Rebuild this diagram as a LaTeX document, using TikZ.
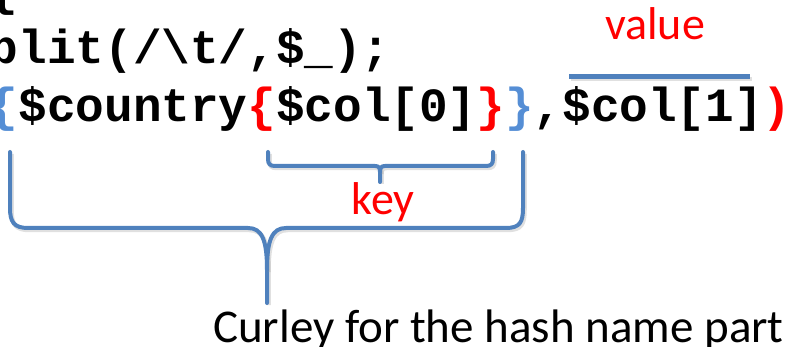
\documentclass[tikz,border=0pt]{standalone}
\usepackage{fontspec}
\newfontfamily\codefont{Liberation Mono}
\newfontfamily\labelfont{Carlito}
\definecolor{braceblue}{RGB}{79,129,189}
\definecolor{codeblue}{RGB}{85,142,213}
\definecolor{labelred}{RGB}{255,0,0}
\tikzset{
  codeline/.style={anchor=base west, inner sep=0pt,
    font=\codefont\bfseries\fontsize{47.7}{58}\selectfont},
  labeltext/.style={inner sep=0pt, text=labelred,
    font=\labelfont\fontsize{46}{55}\selectfont},
  captiontext/.style={anchor=base west, inner sep=0pt, text=black,
    font=\labelfont\fontsize{47}{56}\selectfont},
  braceline/.style={draw=braceblue, line width=4pt, line cap=round, line join=round,
    preaction={draw=black!40, opacity=.3, line width=4.5pt,
      transform canvas={shift={(1.5pt,-2pt)}}}},
}
\begin{document}
\begin{tikzpicture}[x=1pt,y=-1pt]
\useasboundingbox (0,0) rectangle (792,347);

% three lines of Perl code on a monospace grid
\node[codeline] (line1) at (-10.3,6) {\{};
\node[codeline] (line2) at (-10.3,64) {plit(/\textbackslash t/,\$\_);};
\node[codeline] (line3) at (-10.3,122)
  {{\color{codeblue}\{}\$country{\color{labelred}\{}\$col[0]{\color{labelred}\}}{\color{codeblue}\}},\$col[1]{\color{labelred})}};

% brace under the inner key expression
\coordinate (keytip) at (380,182);
\draw[braceline] (268,152) -- (268,159)
  .. controls (268,164) and (270,166) .. (275,166) -- (375,166)
  .. controls (379,166) and (380,168) .. (380,172) -- (keytip);
\draw[braceline] (380,172)
  .. controls (380,168) and (381,166) .. (385,166) -- (486,166)
  .. controls (491,166) and (493,164) .. (493,159) -- (493,152);

% large brace under the whole hash name
\coordinate (hashtip) at (267,303);
\draw[braceline] (10,152) -- (10,208)
  .. controls (10,222) and (14,228) .. (28,228) -- (248,228)
  .. controls (262,228) and (267,240) .. (267,270) -- (hashtip);
\draw[braceline] (267,270)
  .. controls (267,240) and (272,228) .. (286,228) -- (506,228)
  .. controls (520,228) and (523,222) .. (523,208) -- (523,152);

% bar over the value expression
\coordinate (valL) at (569,77);
\coordinate (valR) at (750,77);
\draw[braceline, line width=5pt, line cap=butt] (valL) -- (valR);

% labels
\node[labeltext, anchor=base] (value) at (655,40) {value};
\node[labeltext, anchor=base] (key) at (383,215) {key};
\node[captiontext] (caption) at (213,342) {Curley for the hash name part};
\end{tikzpicture}
\end{document}
